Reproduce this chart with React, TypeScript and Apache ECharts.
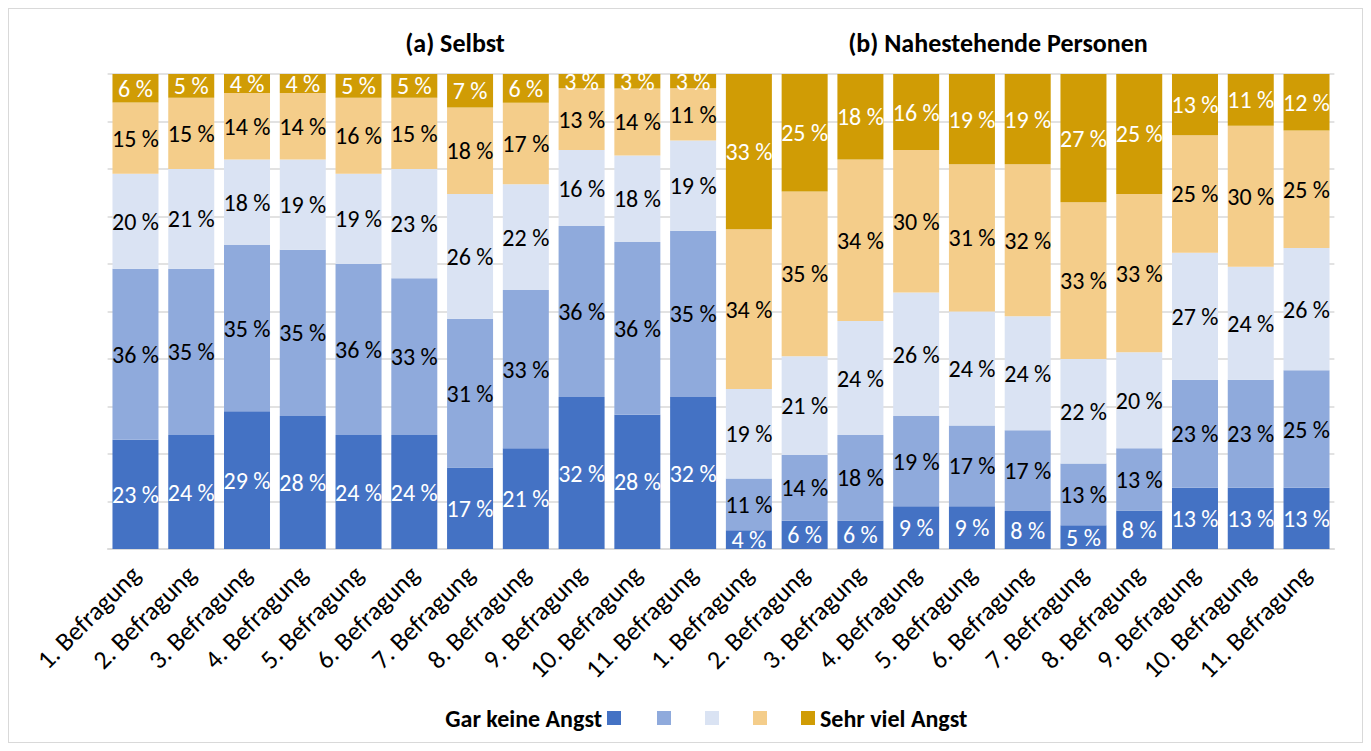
import React, { useEffect, useRef } from "react";
import * as echarts from "echarts";

const categories = [
  "1. Befragung", "2. Befragung", "3. Befragung", "4. Befragung", "5. Befragung", "6. Befragung",
  "7. Befragung", "8. Befragung", "9. Befragung", "10. Befragung", "11. Befragung",
  "1. Befragung", "2. Befragung", "3. Befragung", "4. Befragung", "5. Befragung", "6. Befragung",
  "7. Befragung", "8. Befragung", "9. Befragung", "10. Befragung", "11. Befragung",
];

const seriesNames = ["Gar keine Angst", " ", "  ", "   ", "Sehr viel Angst"];
const seriesColors = ["#4472C4", "#8FAADC", "#DAE3F3", "#F4CD8A", "#D09C05"];
const labelColors = ["#FFFFFF", "#000000", "#000000", "#000000", "#FFFFFF"];

const level1 = [23, 24, 29, 28, 24, 24, 17, 21, 32, 28, 32, 4, 6, 6, 9, 9, 8, 5, 8, 13, 13, 13];
const level2 = [36, 35, 35, 35, 36, 33, 31, 33, 36, 36, 35, 11, 14, 18, 19, 17, 17, 13, 13, 23, 23, 25];
const level3 = [20, 21, 18, 19, 19, 23, 26, 22, 16, 18, 19, 19, 21, 24, 26, 24, 24, 22, 20, 27, 24, 26];
const level4 = [15, 15, 14, 14, 16, 15, 18, 17, 13, 14, 11, 34, 35, 34, 30, 31, 32, 33, 33, 25, 30, 25];
const level5 = [6, 5, 4, 4, 5, 5, 7, 6, 3, 3, 3, 33, 25, 18, 16, 19, 19, 27, 25, 13, 11, 12];

const groupTitles = ["(a) Selbst", "(b) Nahestehende Personen"];

const FONT = "Calibri, Carlito, Lato, sans-serif";

export default function App() {
  const ref = useRef<HTMLDivElement>(null);
  useEffect(() => {
    if (!ref.current) return;
    const chart = echarts.init(ref.current, undefined, { renderer: "svg" });
    const levels = [level1, level2, level3, level4, level5];
    const totals = categories.map((_, i) => levels.reduce((s, l) => s + l[i], 0));
    const series = levels.map((lv, k) => ({
      name: seriesNames[k],
      type: "bar",
      stack: "total",
      barCategoryGap: "17.5%",
      itemStyle: { color: seriesColors[k] },
      label: {
        show: true,
        position: "inside",
        color: labelColors[k],
        fontFamily: FONT,
        fontSize: 24,
        formatter: (p: any) => `${p.data.raw} %`,
      },
      data: lv.map((v, i) => ({ value: (v / totals[i]) * 100, raw: v })),
    }));

    const legendText = { fontFamily: FONT, fontSize: 24, fontWeight: "bold", color: "#000" };
    const titleText = { fontFamily: FONT, fontSize: 26, fontWeight: "bold", color: "#000" };

    chart.setOption({
      animation: false,
      title: [
        { text: groupTitles[0], left: 441, top: 16, textAlign: "center", textStyle: titleText },
        { text: groupTitles[1], left: 984, top: 16, textAlign: "center", textStyle: titleText },
      ],
      legend: [
        {
          data: [seriesNames[0]],
          right: 736,
          top: 692,
          align: "right",
          itemWidth: 14,
          itemHeight: 14,
          icon: "rect",
          textStyle: legendText,
        },
        {
          data: seriesNames.slice(1),
          left: 643,
          top: 692,
          align: "left",
          itemWidth: 14,
          itemHeight: 14,
          itemGap: 34,
          icon: "rect",
          formatter: (n: string) => n.trim(),
          textStyle: legendText,
        },
      ],
      grid: { left: 98.6, right: 27.6, top: 65, bottom: 193, containLabel: false },
      xAxis: {
        type: "category",
        data: categories,
        axisLine: { show: true, lineStyle: { color: "#D9D9D9", width: 1.5 } },
        axisTick: { show: false },
        axisLabel: {
          interval: 0,
          rotate: 45,
          margin: 21,
          fontFamily: FONT,
          fontSize: 26,
          color: "#000",
        },
      },
      yAxis: {
        type: "value",
        min: 0,
        max: 100,
        interval: 10,
        axisLabel: { show: false },
        axisLine: { show: false },
        axisTick: { show: false },
        splitLine: { show: true, lineStyle: { color: "#D9D9D9", width: 1.5 } },
      },
      series,
    });
    return () => chart.dispose();
  }, []);

  return (
    <div
      style={{
        width: 1355,
        height: 735,
        border: "1px solid #D9D9D9",
        boxSizing: "border-box",
        background: "#fff",
      }}
    >
      <div ref={ref} style={{ width: 1353, height: 733 }} />
    </div>
  );
}
